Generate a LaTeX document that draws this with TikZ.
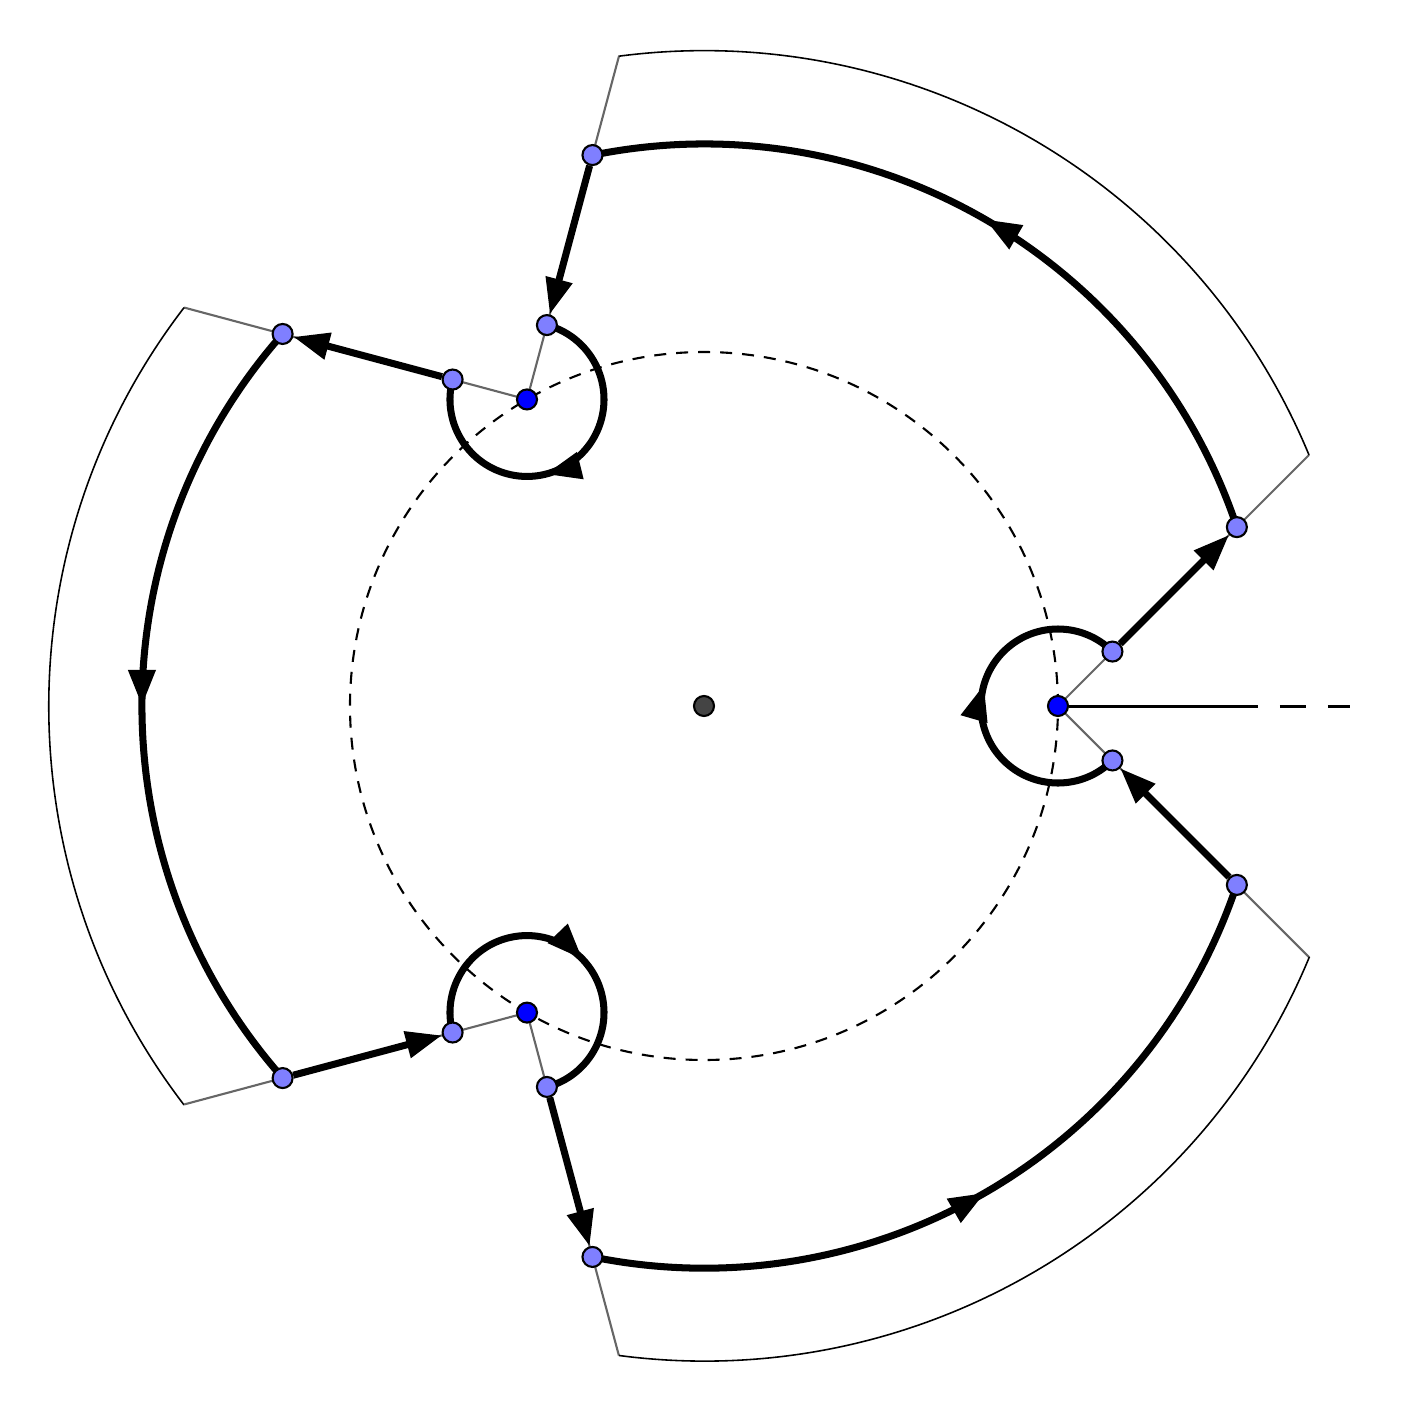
\documentclass[tikz,border=0pt]{standalone}
\usetikzlibrary{arrows.meta,decorations.markings,backgrounds}
\definecolor{ptlight}{RGB}{127,127,255}
\definecolor{ptblue}{RGB}{0,0,255}
\definecolor{ptcenter}{RGB}{68,68,68}
\tikzset{
  dot/.style={
  circle,
  draw=black,
  line width=0.6pt,
  fill=ptlight,
  minimum size=0.2cm,
  inner sep=0pt,
  },
  contour/.style={
  line width=2pt,
  },
  midarrow/.style={
  postaction={decorate},
  decoration={markings,
    mark=at position #1 with {\arrow{Triangle[length=3.6mm,width=2.6mm]}}},
  },
  ray/.style={draw=black!60, line width=0.6pt},
  rim/.style={line width=0.45pt},
  guide/.style={line width=0.6pt, dash pattern=on 0.12cm off 0.1cm},
  cutline/.style={line width=0.85pt},
}
\begin{document}
\begin{tikzpicture}[
  >={Triangle[length=3.6mm,width=2.6mm]}
  ]
\useasboundingbox (-7.04,-7.07) rectangle (7.09,7.06);

% the centre
\node[dot,fill=ptcenter](o) at (0,0){};

% the three poles and the points on their rays
\foreach \k [evaluate=\k as \a using 120*\k] in {0,1,2}{
  \node[dot,fill=ptblue](b\k) at (\a:3.54){};
  \path (b\k.center) ++(\a-45:0.77) node[dot](inm\k){}
        (b\k.center) ++(\a+45:0.77) node[dot](inp\k){}
        (b\k.center) ++(\a-45:2.53) node[dot](outm\k){}
        (b\k.center) ++(\a+45:2.53) node[dot](outp\k){}
        (b\k.center) ++(\a-45:3.55) coordinate(endm\k)
        (b\k.center) ++(\a+45:3.55) coordinate(endp\k);
}

\coordinate (cutend) at (5.54,0);
\coordinate (cutfar) at (6.46,0);

\begin{pgfonlayer}{background}
% dashed circle through the poles
\draw[guide] (o.center) circle[radius=3.54];

% branch cut
\draw[cutline] (b0) -- (cutend);
\draw[cutline,dash pattern=on 0.26cm off 0.22cm,dash phase=0.26cm] (cutend) -- (cutfar);

% rays and outer rims
\foreach \k [evaluate=\k as \a using 120*\k] in {0,1,2}{
  \draw[ray] (b\k.center) -- (endm\k) (b\k.center) -- (endp\k);
  \draw[rim] (endp\k) arc[start angle=\a+22.5,end angle=\a+97.5,radius=6.55];
}

% the contour
\foreach \k [evaluate=\k as \a using 120*\k,
             evaluate=\k as \n using {int(mod(\k+1,3))}] in {0,1,2}{
  \draw[contour,->] (inp\k) -- (outp\k);
  \draw[contour,midarrow=0.5] (outp\k.center)
    arc[start angle=\a+18.56,end angle=\a+101.44,radius=5.62];
  \draw[contour,->] (outm\n) -- (inm\n);
  \draw[contour,midarrow=0.56] (inm\k.center)
    arc[start angle=\a-45,end angle=\a-315,radius=0.77];
}
\end{pgfonlayer}

\end{tikzpicture}
\end{document}
